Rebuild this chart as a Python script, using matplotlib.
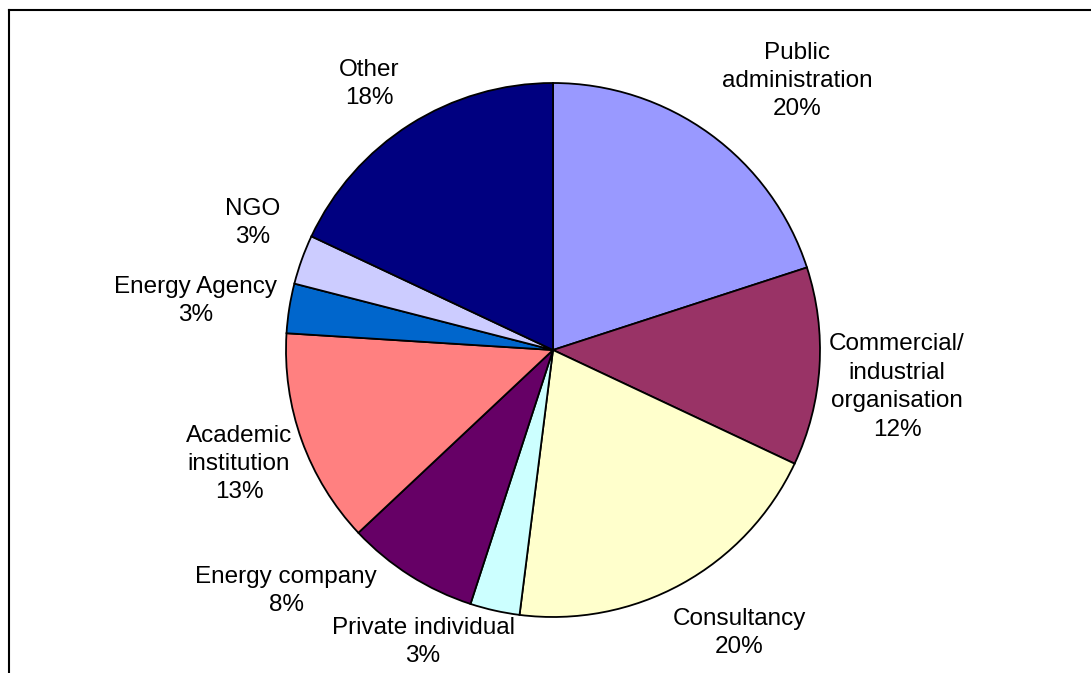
import matplotlib.pyplot as plt
from matplotlib.lines import Line2D

# survey respondents by organisation type
categories = ["Public\nadministration", "Commercial/\nindustrial\norganisation", "Consultancy",
              "Private individual", "Energy company", "Academic\ninstitution",
              "Energy Agency", "NGO", "Other"]
shares = [20, 12, 20, 3, 8, 13, 3, 3, 18]
colors = ["#9999FF", "#993366", "#FFFFCC", "#CCFFFF", "#660066",
          "#FF8080", "#0066CC", "#CCCCFF", "#000080"]

# label anchors in pixel space (x from left, y from top)
label_pos = [(797, 81), (897, 387), (739, 633), (423, 642), (286, 591),
             (239, 464), (196, 301), (253, 223), (369, 84)]

W, H = 1091, 673
fig = plt.figure(figsize=(W / 100, H / 100), dpi=100)
ax = fig.add_axes([0, 0, 1, 1])

ax.pie(shares, colors=colors, startangle=90, counterclock=False,
       center=(553, H - 350), radius=267, frame=True,
       wedgeprops=dict(edgecolor="black", linewidth=1.3))
ax.set_xlim(0, W)
ax.set_ylim(0, H)
ax.set_aspect("equal")
ax.axis("off")

for name, val, (x, y) in zip(categories, shares, label_pos):
    ax.text(x, H - y, f"{name}\n{val}%", ha="center", va="center",
            fontsize=17.5, family="Liberation Sans", linespacing=1.38)

# chart area border (top and left edges)
fig.add_artist(Line2D([9 / W, 9 / W], [0, 1 - 10 / H], transform=fig.transFigure,
                      color="black", linewidth=1.5))
fig.add_artist(Line2D([9 / W, 1], [1 - 10 / H, 1 - 10 / H], transform=fig.transFigure,
                      color="black", linewidth=1.5))

fig.savefig("out.png", dpi=100, facecolor="white")
